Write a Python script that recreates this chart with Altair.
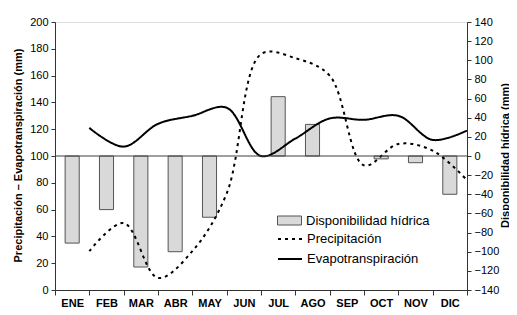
import altair as alt
import pandas as pd

meses = ["ENE", "FEB", "MAR", "ABR", "MAY", "JUN", "JUL", "AGO", "SEP", "OCT", "NOV", "DIC"]
disponibilidad = [-91, -56, -116, -100, -64, None, 62, 33, None, -3, -7, -40]
precipitacion = [29, 50, 9, 29, 72, 176, 173, 160, 93, 109, 104, 82]
evapotranspiracion = [121, 107, 124, 130, 136, 100, 113, 128, 127, 130, 112, 119]
series_lineas = ["Precipitación", "Evapotranspiración"]

bars_df = pd.DataFrame({"mes": meses, "disp": disponibilidad, "serie": "Disponibilidad hídrica"})
lines_df = pd.DataFrame({
    "mes": meses * 2,
    "idx": list(range(12)) * 2,
    "valor": precipitacion + evapotranspiracion,
    "serie": [series_lineas[0]] * 12 + [series_lineas[1]] * 12,
})
rule_df = pd.DataFrame({"valor": [100]})

FONT = "Liberation Sans"

x_axis = alt.Axis(title=None, tickBand="extent", labelAngle=0, labelFont=FONT,
                  labelFontWeight="bold", labelFontSize=11, labelColor="black",
                  domainColor="#333", tickColor="#333", tickSize=5, labelPadding=2)
x_scale = alt.Scale(paddingInner=0, paddingOuter=0)

left_axis = alt.Axis(orient="left", values=list(range(0, 201, 20)),
                     title="Precipitación – Evapotranspiración (mm)", titleAngle=270,
                     titleX=-37, titleY=133, titleAlign="center", titleBaseline="middle",
                     titleFont=FONT, titleFontWeight="bold", titleFontSize=11,
                     titleColor="black",
                     labelFont=FONT, labelFontSize=11, labelColor="black",
                     domainColor="#333", tickColor="#333", tickSize=4, labelPadding=3,
                     grid=False)
left_scale = alt.Scale(domain=[0, 200], nice=False)

bars = alt.Chart(bars_df).mark_bar(
    width=alt.RelativeBandSize(0.41), stroke="#555", strokeWidth=1
).encode(
    x=alt.X("mes:N", sort=meses, scale=x_scale, axis=x_axis),
    y=alt.Y("disp:Q", scale=alt.Scale(domain=[-140, 140], nice=False),
            axis=alt.Axis(orient="right", values=list(range(-140, 141, 20)),
                          title="Disponibilidad hídrica (mm)", titleAngle=270,
                          titleX=38, titleY=133, titleAlign="center", titleBaseline="middle",
                          titleFont=FONT, titleFontWeight="bold", titleFontSize=11,
                          titleColor="black",
                          labelFont=FONT, labelFontSize=11, labelColor="black",
                          domainColor="#333", tickColor="#333", tickSize=4, labelPadding=3,
                          grid=False)),
    fill=alt.Fill("serie:N", scale=alt.Scale(range=["#d9d9d9"]),
                  legend=alt.Legend(title=None, orient="none", legendX=222, legendY=186,
                                    symbolType="M-1,-0.375H1V0.375H-1Z", symbolSize=576,
                                    symbolStrokeColor="#555", symbolStrokeWidth=1,
                                    labelFont=FONT, labelFontSize=13, labelColor="black",
                                    padding=0, labelOffset=4)),
)

lines = alt.Chart(lines_df).mark_line(
    color="black", strokeWidth=2, interpolate="catmull-rom"
).encode(
    x=alt.X("mes:N", sort=meses, bandPosition=1),
    y=alt.Y("valor:Q", scale=left_scale, axis=left_axis),
    strokeDash=alt.StrokeDash("serie:N", sort=series_lineas,
                              scale=alt.Scale(domain=series_lineas, range=[[3, 4], [1, 0]]),
                              legend=alt.Legend(title=None, orient="none", legendX=222, legendY=204,
                                                symbolType="stroke", symbolSize=576,
                                                symbolStrokeColor="black", symbolStrokeWidth=2,
                                                labelFont=FONT, labelFontSize=13, labelColor="black",
                                                padding=0, labelOffset=4, rowPadding=-4)),
    order="idx:Q",
)

rule = alt.Chart(rule_df).mark_rule(color="#404040", strokeWidth=1).encode(
    y=alt.Y("valor:Q", scale=left_scale, axis=left_axis)
)

chart = alt.layer(bars, alt.layer(lines, rule)).resolve_scale(y="independent").properties(
    width=412, height=268,
    autosize=alt.AutoSizeParams(type="none"),
    padding={"left": 47, "top": 14, "right": 42, "bottom": 24},
).configure_view(stroke=None).configure(background="white")

chart.save("out.html", embed_options={"renderer": "svg", "actions": False})
